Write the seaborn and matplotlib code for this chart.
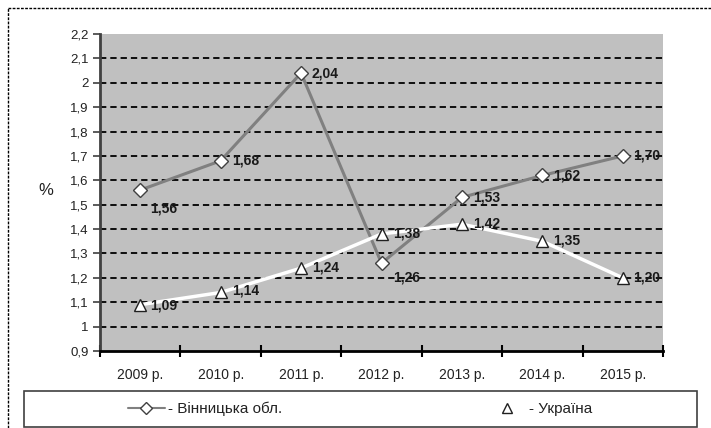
import matplotlib
matplotlib.use("Agg")
import matplotlib.pyplot as plt
import seaborn as sns
import pandas as pd
from matplotlib.lines import Line2D
from matplotlib.patches import Rectangle
from matplotlib.ticker import FixedLocator

# Data
years = ["2009 р.", "2010 р.", "2011 р.", "2012 р.", "2013 р.", "2014 р.", "2015 р."]
vinnytsia = [1.56, 1.68, 2.04, 1.26, 1.53, 1.62, 1.70]
ukraine = [1.09, 1.14, 1.24, 1.38, 1.42, 1.35, 1.20]
y_ticks = [0.9, 1.0, 1.1, 1.2, 1.3, 1.4, 1.5, 1.6, 1.7, 1.8, 1.9, 2.0, 2.1, 2.2]
series_names = ["- Вінницька обл.", "- Україна"]

sns.set_theme(style="white")
plt.rcParams["font.family"] = ["Liberation Sans", "DejaVu Sans"]

W, H = 711, 428
fig = plt.figure(figsize=(W / 100, H / 100), dpi=100)
ax = fig.add_axes([100 / W, 1 - 351 / H, 563 / W, 317 / H])
ax.set_facecolor("#c0c0c0")

df = pd.DataFrame({"year": years, "vin": vinnytsia, "ukr": ukraine})

# dashed horizontal gridlines
for v in y_ticks[1:-1]:
    ax.axhline(v, color="black", lw=1.3, linestyle=(0, (3.5, 2.2)), zorder=1)

sns.lineplot(data=df, x="year", y="vin", ax=ax, color="#808080", lw=2.2,
             marker="D", markersize=7.5, markerfacecolor="white",
             markeredgecolor="#404040", markeredgewidth=1.0, zorder=3)
sns.lineplot(data=df, x="year", y="ukr", ax=ax, color="white", lw=2.5,
             marker="^", markersize=8, markerfacecolor="white",
             markeredgecolor="#202020", markeredgewidth=1.0, zorder=3)

ax.set_xlim(-0.5, len(years) - 0.5)
ax.set_ylim(y_ticks[0], y_ticks[-1])

def fmt(v):
    return f"{v:.2f}".replace(".", ",")

# value labels
vin_offsets = [(10, -18), (11, 0), (10, 0), (12, -14), (11, 0), (11, 0), (10, 0)]
ukr_offsets = [(10, -1), (11, 2), (11, 1), (12, 0), (11, 1), (11, 1), (10, 0)]
label_kw = dict(textcoords="offset pixels", ha="left", va="center",
                fontsize=10, fontweight="bold", color="#1a1a1a", zorder=4)
for i, (v, off) in enumerate(zip(vinnytsia, vin_offsets)):
    ax.annotate(fmt(v), (i, v), xytext=off, **label_kw)
for i, (v, off) in enumerate(zip(ukraine, ukr_offsets)):
    ax.annotate(fmt(v), (i, v), xytext=off, **label_kw)

# axes styling
ax.set_yticks(y_ticks)
ax.set_yticklabels([fmt(t).rstrip("0").rstrip(",") if t != 0.9 else "0,9" for t in y_ticks])
ax.set_xticks(range(len(years)))
ax.set_xticklabels(years)
ax.xaxis.set_minor_locator(FixedLocator([i - 0.5 for i in range(len(years) + 1)]))
ax.tick_params(axis="x", which="major", length=0, pad=12, labelsize=10, labelcolor="#222")
ax.tick_params(axis="x", which="minor", direction="inout", length=8, width=1.5,
               color="black", bottom=True)
ax.tick_params(axis="y", which="major", direction="out", length=5, width=1.2,
               color="#404040", left=True, pad=3, labelsize=9.5, labelcolor="#222")
for s in ["top", "right"]:
    ax.spines[s].set_visible(False)
ax.spines["left"].set_color("#404040")
ax.spines["left"].set_linewidth(2)
ax.spines["bottom"].set_color("black")
ax.spines["bottom"].set_linewidth(2)
ax.set_xlabel("")
ax.set_ylabel("%", rotation=0, fontsize=12, color="#222")
ax.yaxis.set_label_coords((46 - 100) / 563, (351 - 198) / 317)

# outer dashed frame
fig.add_artist(Line2D([8 / W, 1.0], [1 - 8 / H, 1 - 8 / H], transform=fig.transFigure,
                      color="black", lw=1, linestyle=(0, (2, 1))))
fig.add_artist(Line2D([8 / W, 8 / W], [0, 1 - 8 / H], transform=fig.transFigure,
                      color="black", lw=1, linestyle=(0, (2, 1))))

# legend box
fig.add_artist(Rectangle((24 / W, 1 - 427 / H), (697 - 24) / W, 36 / H,
                         transform=fig.transFigure, facecolor="white",
                         edgecolor="#404040", lw=1.2))
h_vin = Line2D([], [], color="#808080", lw=1.5, marker="D", markersize=6.5,
               markerfacecolor="white", markeredgecolor="#404040", markeredgewidth=1)
h_ukr = Line2D([], [], color="white", lw=0, marker="^", markersize=7,
               markerfacecolor="white", markeredgecolor="#202020", markeredgewidth=1)
leg1 = fig.legend([h_vin], [series_names[0]], loc="center left",
                  bbox_to_anchor=(128 / W, 1 - 409 / H), frameon=False,
                  fontsize=11, handlelength=2.4, handletextpad=0.2,
                  borderpad=0, borderaxespad=0)
leg2 = fig.legend([h_ukr], [series_names[1]], loc="center left",
                  bbox_to_anchor=(497 / W, 1 - 409 / H), frameon=False,
                  fontsize=11, handlelength=1.3, handletextpad=0.8,
                  borderpad=0, borderaxespad=0)
for t in leg1.get_texts() + leg2.get_texts():
    t.set_color("#222")

fig.savefig("out.png", dpi=100)
